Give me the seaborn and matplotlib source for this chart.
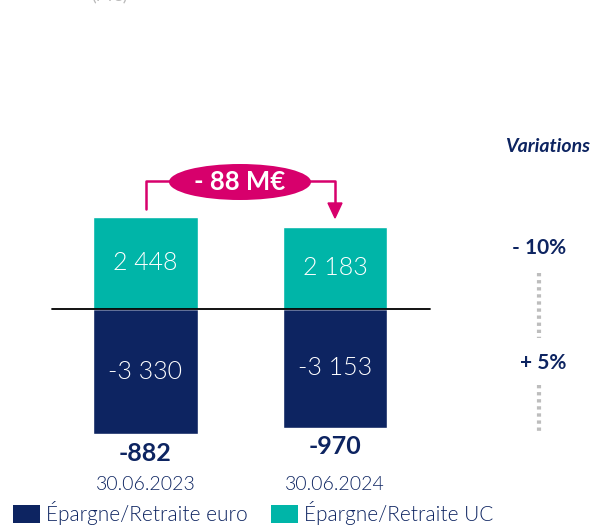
import matplotlib
matplotlib.use("Agg")
import matplotlib.pyplot as plt
import seaborn as sns
import pandas as pd
from matplotlib.patches import Ellipse, Patch

# ---- data ----
dates = ["30.06.2023", "30.06.2024"]
uc_values = [2448, 2183]
euro_values = [-3330, -3153]
totals = [-882, -970]
series_names = ["Épargne/Retraite euro", "Épargne/Retraite UC"]
variations = ["- 10%", "+ 5%"]
delta_label = "- 88 M€"
unit_label = "(M€)"

NAVY = "#0D2461"
TEAL = "#00B5A8"
MAGENTA = "#D7006C"
GREY = "#BDBDBD"

sns.set_theme(style="white")
plt.rcParams["font.family"] = ["Lato", "DejaVu Sans"]

W, H = 593, 525
fig = plt.figure(figsize=(W / 100, H / 100), dpi=100)
ax = fig.add_axes([0, 0, 1, 1])

rows = []
for d, e, u in zip(dates, euro_values, uc_values):
    rows.append({"date": d, "series": series_names[0], "value": e})
    rows.append({"date": d, "series": series_names[1], "value": u})
df = pd.DataFrame(rows)

sns.barplot(data=df, x="date", y="value", hue="series", dodge=False,
            palette={series_names[0]: NAVY, series_names[1]: TEAL},
            width=0.554, ax=ax, legend=False, saturation=1)

# scale: pixel y = 309 - v*0.0376 ; pixel x = 145.5 + pos*189.5
k = 0.0376
ax.set_ylim(-(H - 309) / k, 309 / k)
ax.set_xlim(-145.5 / 189.5, (W - 145.5) / 189.5)
ax.axis("off")

def py(p):
    return (309 - p) / k

def px(p):
    return (p - 145.5) / 189.5

# zero line
ax.plot([px(52), px(430)], [0, 0], color="black", lw=1.3, zorder=5)

LIGHT = 300
fmt = lambda v: f"{abs(v):,}".replace(",", " ")
for i, (u, e, t, d) in enumerate(zip(uc_values, euro_values, totals, dates)):
    ax.text(i, u / 2, fmt(u), ha="center", va="center", color="white",
            fontsize=18, fontweight=LIGHT)
    ax.text(i, e / 2, "-" + fmt(e), ha="center", va="center", color="white",
            fontsize=18, fontweight=LIGHT)
    ax.annotate(f"{t}", (i, e), xytext=(0, -14), textcoords="offset points",
                ha="center", va="center", color=NAVY, fontsize=18, fontweight="bold")
    ax.text(i, py(484), d, ha="center", va="center", color=NAVY, fontsize=14,
            fontweight=LIGHT)

# bracket + arrow
ax.plot([px(146), px(146), px(335), px(335)],
        [py(209), py(181), py(181), py(204)], color=MAGENTA, lw=1.8, zorder=3)
ax.fill([px(328), px(342), px(335)], [py(203), py(203), py(218)], color=MAGENTA, zorder=3)
ell = Ellipse((px(240), py(182)), width=142 / 189.5, height=36 / k,
              facecolor=MAGENTA, edgecolor="none", zorder=4)
ax.add_patch(ell)
ax.text(px(240), py(182), delta_label, ha="center", va="center", color="white",
        fontsize=18.5, fontweight="bold", zorder=6)

# right side variations
ax.text(px(548), py(146), "Variations", ha="center", va="center", color=NAVY,
        fontsize=14, fontweight="bold", style="italic")
ax.text(px(539), py(248), variations[0], ha="center", va="center", color=NAVY,
        fontsize=15, fontweight="bold")
ax.text(px(543), py(363), variations[1], ha="center", va="center", color=NAVY,
        fontsize=15, fontweight="bold")
for y0, y1 in [(273, 338), (385, 433)]:
    ax.plot([px(539), px(539)], [py(y0), py(y1)], color=GREY, lw=3,
            linestyle=(0, (0.8, 0.9)), solid_capstyle="butt")

# clipped unit label
ax.text(px(110), py(-4), unit_label, ha="center", va="center", color="#BBBBBB",
        fontsize=13)

# legend
handles = [Patch(facecolor=NAVY, edgecolor="none"), Patch(facecolor=TEAL, edgecolor="none")]
fig.legend(handles, series_names, loc="lower left", bbox_to_anchor=(13 / W, 0 / H),
           ncol=2, frameon=False, handlelength=1.3, handleheight=1.0,
           handletextpad=0.3, columnspacing=1.1, borderpad=0, borderaxespad=0,
           labelcolor=NAVY, prop={"weight": LIGHT, "size": 15})

fig.savefig("out.png", dpi=100)
